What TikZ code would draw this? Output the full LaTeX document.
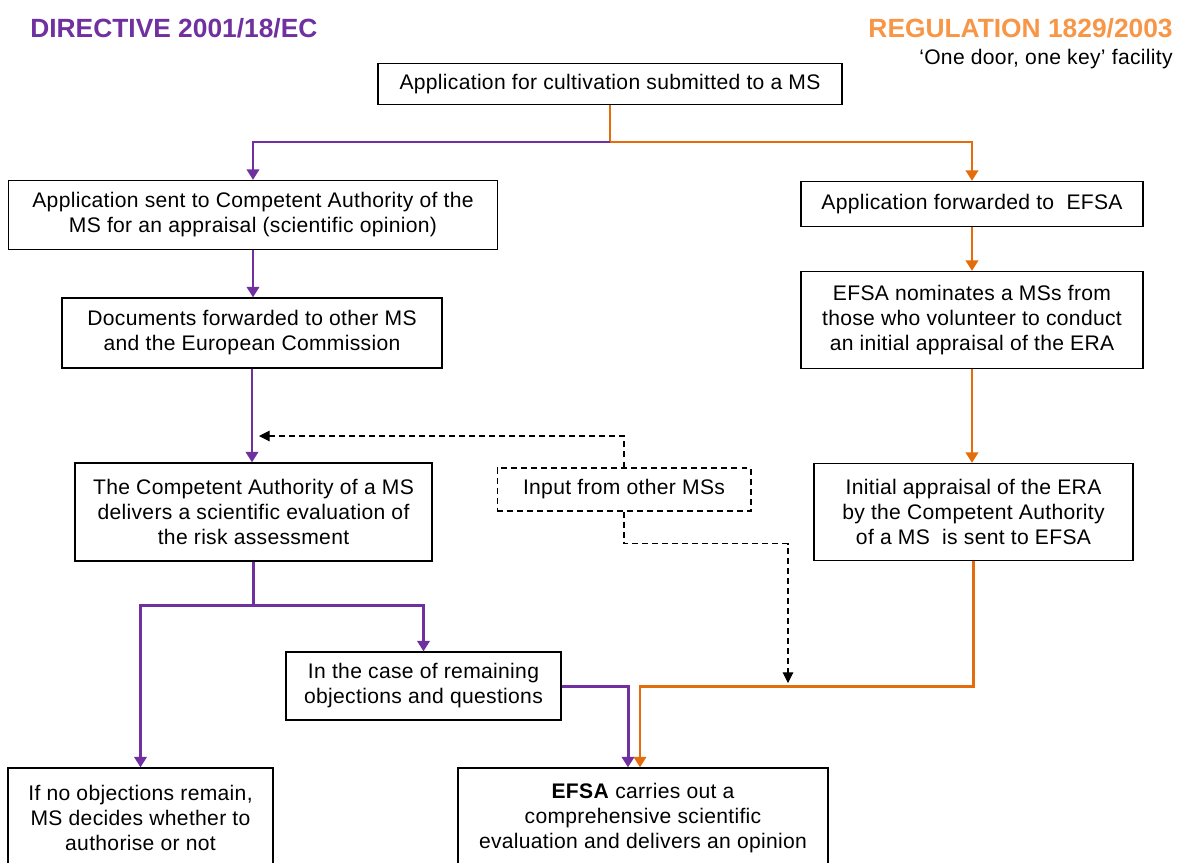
\documentclass[tikz,border=0pt]{standalone}
\usepackage{fontspec}
\setmainfont{Liberation Sans}
\newfontfamily\boxfont[LetterSpace=1.5]{Liberation Sans}
\usetikzlibrary{arrows.meta}
\definecolor{dirpurple}{HTML}{7030A0}
\definecolor{regorange}{HTML}{E46C0A}
\definecolor{headorange}{HTML}{F79646}
\tikzset{
  box/.style={draw, line width=0.7pt, align=center, inner sep=0pt,
    font=\boxfont\fontsize{12pt}{14.2pt}\selectfont},
  purpleflow/.style={dirpurple, line width=1.7pt, -{Triangle[length=6pt,width=7pt]}},
  orangeflow/.style={regorange, line width=1.7pt, -{Triangle[length=6pt,width=7pt]}},
  inputflow/.style={black, line width=0.6pt, dash pattern=on 3.4pt off 2.3pt, -{Triangle[length=6pt,width=6pt]}},
}
\begin{document}
\begin{tikzpicture}[x=0.02cm, y=-0.02cm]
  \useasboundingbox (0,0) rectangle (1188,863);
  \clip (0,0) rectangle (1188,863);

  % headings
  \node[anchor=west, dirpurple, font=\fontsize{15pt}{18pt}\selectfont\bfseries, inner sep=0pt] (dirtitle) at (30,28) {DIRECTIVE 2001/18/EC};
  \node[anchor=east, headorange, font=\fontsize{15pt}{18pt}\selectfont\bfseries, inner sep=0pt] (regtitle) at (1173,28) {REGULATION 1829/2003};
  \node[anchor=east, font=\boxfont\fontsize{12pt}{14pt}\selectfont, inner sep=0pt] (facility) at (1173,59) {‘One door, one key’ facility};

  % boxes
  \node[box, minimum width=9.28cm, minimum height=0.82cm] (submit) at (610,84) {Application for cultivation submitted to a MS};

  \node[box, minimum width=9.78cm, minimum height=1.38cm] (sent) at (253,215) {Application sent to Competent Authority of the\\MS for an appraisal (scientific opinion)};
  \node[box, minimum width=7.6cm, minimum height=1.4cm] (docs) at (252,333) {Documents forwarded to other MS\\and the European Commission};
  \node[box, minimum width=7.14cm, minimum height=1.96cm] (caeval) at (253.5,512) {The Competent Authority of a MS\\delivers a scientific evaluation of\\the risk assessment};
  \node[box, minimum width=5.5cm, minimum height=1.36cm] (remain) at (423.5,686) {In the case of remaining\\objections and questions};
  \node[box, minimum width=5.3cm, minimum height=2cm] (decide) at (140.5,818) {If no objections remain,\\MS decides whether to\\authorise or not};

  \node[box, minimum width=6.84cm, minimum height=0.9cm] (forward) at (972,204) {Application forwarded to\ \ EFSA};
  \node[box, minimum width=6.84cm, minimum height=1.94cm] (nominate) at (972,320) {EFSA nominates a MSs from\\those who volunteer to conduct\\an initial appraisal of the ERA};
  \node[box, minimum width=6.38cm, minimum height=1.94cm] (appraisal) at (973.5,512) {Initial appraisal of the ERA\\by the Competent Authority\\of a MS\ \ is sent to EFSA};

  \node[box, minimum width=7.4cm, minimum height=2cm] (efsa) at (643,818) {\textbf{EFSA} carries out a\\comprehensive scientific\\evaluation and delivers an opinion};

  \node[box, dash pattern=on 3.4pt off 2.3pt, line width=0.6pt, minimum width=5.08cm, minimum height=0.86cm] (input) at (624,489.5) {Input from other MSs};

  % connectors
  \coordinate (split) at (610,142);
  \draw[orangeflow] (submit.south) -- (split) -| (forward.north);
  \draw[purpleflow] (split) -| (sent.north);

  \draw[purpleflow] (sent.south) -- (docs.north -| sent.south);
  \draw[purpleflow] (docs.south) -- (caeval.north -| docs.south);
  \draw[purpleflow] (caeval.south) -- ++(0,44) coordinate (split2) -| (decide.north);
  \draw[purpleflow] (split2) -| (remain.north);
  \draw[purpleflow] (remain.east) -| ([xshift=-0.3cm]efsa.north);

  \draw[orangeflow] (forward.south) -- (nominate.north);
  \draw[orangeflow] (nominate.south) -- (appraisal.north -| nominate.south);
  \draw[orangeflow] (appraisal.south) -- ++(0,125) -| ([xshift=-0.06cm]efsa.north);

  \coordinate (toca) at (259,436);
  \coordinate (toefsa) at (788,683);
  \draw[inputflow] (input.north) |- (toca);
  \draw[inputflow] (input.south) -- ++(0,32) -| (toefsa);
\end{tikzpicture}
\end{document}
